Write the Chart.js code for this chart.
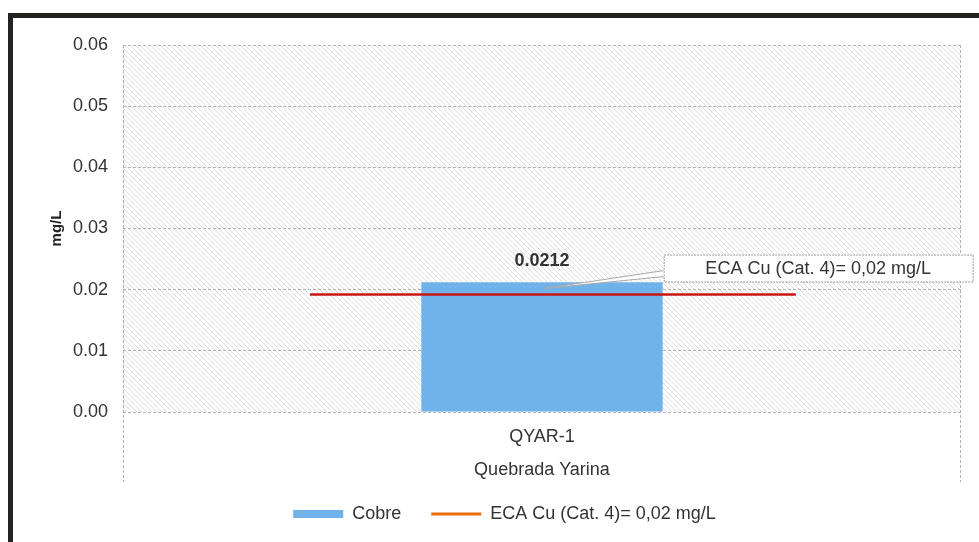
<!DOCTYPE html>
<html>
<head>
<meta charset="utf-8">
<script src="https://cdn.jsdelivr.net/npm/chart.js@4/dist/chart.umd.min.js"></script>
<style>
  html, body { margin: 0; padding: 0; background: #fff; }
  #wrap { position: relative; width: 979px; height: 542px; overflow: hidden; }
  #frame { position: absolute; left: 8px; top: 13px; width: 990px; height: 560px;
           border-left: 5px solid #23231f; border-top: 5px solid #23231f; }
  canvas { position: absolute; left: 0; top: 0; }
</style>
</head>
<body>
<div id="wrap">
  <div id="frame"></div>
  <canvas id="chart" width="979" height="542"></canvas>
</div>
<script>
const categories = ['QYAR-1'];
const cobre = [0.0212];
const ecaLabel = 'ECA Cu (Cat. 4)= 0,02 mg/L';
const ecaValue = [0.0192, 0.0192];
const ecaSpan = [0, 1];
const yTicks = [0, 0.01, 0.02, 0.03, 0.04, 0.05, 0.06];

const font = 'Liberation Sans, Arial, sans-serif';

// diagonal hatch for the plot area
function hatchPattern(ctx) {
  const c = document.createElement('canvas');
  c.width = 5; c.height = 5;
  const p = c.getContext('2d');
  p.strokeStyle = 'rgba(170,170,185,0.5)';
  p.lineWidth = 0.8;
  p.beginPath();
  p.moveTo(-1, -1); p.lineTo(6, 6);
  p.moveTo(-1, 4); p.lineTo(1, 6);
  p.moveTo(4, -1); p.lineTo(6, 1);
  p.stroke();
  return ctx.createPattern(c, 'repeat');
}

const decor = {
  id: 'decor',
  beforeDraw(chart) {
    const { ctx, chartArea: a } = chart;
    ctx.save();
    ctx.fillStyle = hatchPattern(ctx);
    ctx.fillRect(a.left, a.top, a.right - a.left, a.bottom - a.top);
    ctx.restore();
  },
  beforeDatasetsDraw(chart) {
    const { ctx, chartArea: a } = chart;
    ctx.save();
    ctx.strokeStyle = '#b0b0b8';
    ctx.lineWidth = 1;
    ctx.setLineDash([3, 2]);
    ctx.beginPath();
    ctx.moveTo(a.left + 0.5, a.top); ctx.lineTo(a.left + 0.5, a.bottom + 70);
    ctx.moveTo(a.right - 0.5, a.top); ctx.lineTo(a.right - 0.5, a.bottom + 70);
    ctx.stroke();
    ctx.restore();
  },
  afterDatasetsDraw(chart) {
    const { ctx } = chart;
    const bar = chart.getDatasetMeta(0).data[0];
    const y = chart.scales.y;
    const lineY = y.getPixelForValue(ecaValue[0]);
    ctx.save();
    // value label
    ctx.fillStyle = '#333';
    ctx.font = 'bold 18px ' + font;
    ctx.textAlign = 'center';
    ctx.textBaseline = 'middle';
    ctx.fillText(cobre[0].toFixed(4), bar.x, bar.y - 21);
    // callout for the ECA line
    const bx = bar.x + bar.width / 2 + 1, by = lineY - 40, bw = 309, bh = 27;
    ctx.strokeStyle = '#a8a8a8';
    ctx.lineWidth = 1;
    ctx.beginPath();
    ctx.moveTo(bx, by + 16);
    ctx.lineTo(bar.x + 2, lineY - 6);
    ctx.lineTo(bx, by + 22);
    ctx.fillStyle = '#fff';
    ctx.fill();
    ctx.stroke();
    ctx.fillRect(bx, by, bw, bh);
    ctx.setLineDash([2, 1]);
    ctx.strokeStyle = '#9a9a9a';
    ctx.strokeRect(bx + 0.5, by + 0.5, bw, bh);
    ctx.fillStyle = '#333';
    ctx.font = '18px ' + font;
    ctx.fillText(ecaLabel, bx + bw / 2, by + bh / 2 + 1);
    ctx.restore();
  }
};

new Chart(document.getElementById('chart'), {
  type: 'bar',
  data: {
    labels: categories,
    datasets: [{
      label: 'Cobre',
      data: cobre,
      backgroundColor: '#70b2ea',
      borderWidth: 0,
      grouped: false,
      categoryPercentage: 1,
      barPercentage: 0.288,
      order: 2
    }, {
      type: 'line',
      label: ecaLabel,
      data: ecaSpan.map((x, i) => ({ x: x, y: ecaValue[i] })),
      xAxisID: 'x2',
      borderColor: '#cc1414',
      borderWidth: 2.5,
      pointRadius: 0,
      order: 1
    }]
  },
  plugins: [decor],
  options: {
    responsive: false,
    animation: false,
    layout: { padding: { left: 48, right: 18, top: 45, bottom: 9 } },
    plugins: {
      tooltip: { enabled: false },
      legend: {
        position: 'bottom',
        labels: {
          color: '#333',
          font: { family: font, size: 18 },
          usePointStyle: true,
          pointStyleWidth: 50,
          boxHeight: 8,
          padding: 20,
          generateLabels: () => [
            { text: 'Cobre  ', pointStyle: 'rect', fillStyle: '#70b2ea', strokeStyle: '#70b2ea', lineWidth: 0, fontColor: '#333' },
            { text: ecaLabel, pointStyle: 'line', fillStyle: '#e8700e', strokeStyle: '#e8700e', lineWidth: 3, fontColor: '#333' }
          ]
        }
      }
    },
    scales: {
      x: {
        grid: { display: false, drawTicks: false },
        border: { display: false },
        ticks: { color: '#333', font: { family: font, size: 18 }, padding: 14 },
        title: { display: true, text: 'Quebrada Yarina', color: '#333', font: { family: font, size: 18 }, padding: { top: 0, bottom: 4 } },
        afterFit(s) { s.height = 73; }
      },
      x2: {
        type: 'linear',
        display: false,
        offset: false,
        min: -0.385,
        max: 1.34
      },
      y: {
        min: 0,
        max: 0.06,
        afterBuildTicks(s) { s.ticks = yTicks.map(v => ({ value: v })); },
        grid: { color: '#b4b4bc', drawTicks: false, lineWidth: 1 },
        border: { display: false, dash: [3, 2] },
        ticks: { color: '#333', font: { family: font, size: 18 }, padding: 15, callback: v => v.toFixed(2) },
        title: { display: true, text: 'mg/L', color: '#222', font: { family: font, size: 15, weight: 'bold' }, padding: 0 },
        afterFit(s) { s.width = 75; }
      }
    }
  }
});
</script>
</body>
</html>
